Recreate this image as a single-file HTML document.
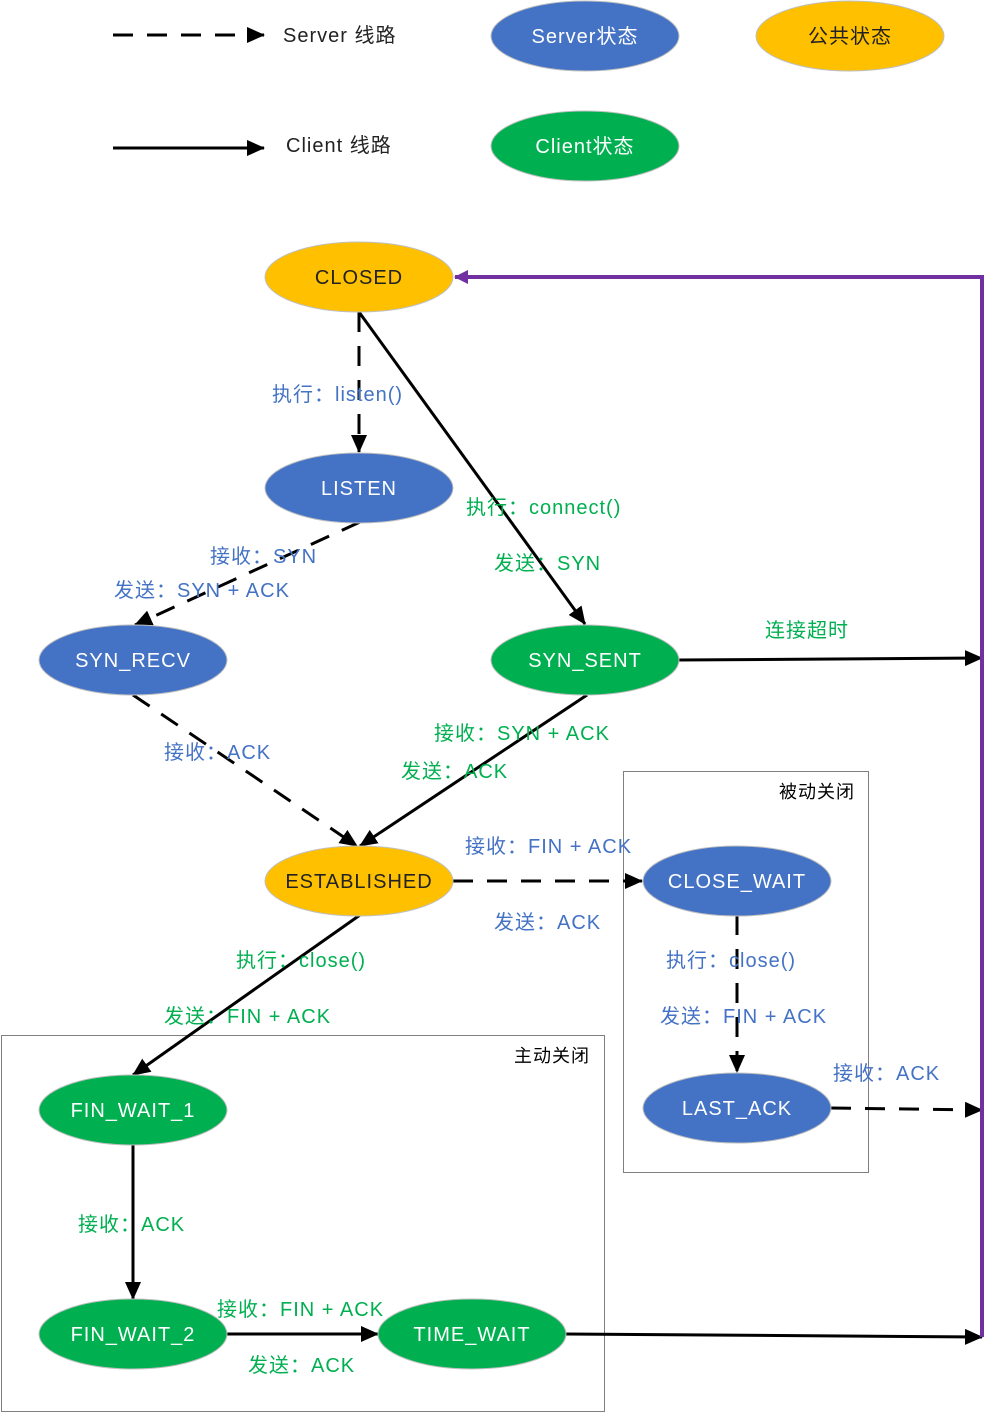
<!DOCTYPE html>
<html><head><meta charset="utf-8"><style>
html,body{margin:0;padding:0;background:#fff;}
svg text{font-family:"Liberation Sans","Noto Sans CJK SC",sans-serif;letter-spacing:1px;}
</style></head><body>
<svg width="985" height="1414" viewBox="0 0 985 1414" xmlns="http://www.w3.org/2000/svg">
<defs>
<marker id="ap" markerWidth="14" markerHeight="14" refX="13" refY="7" orient="auto" markerUnits="userSpaceOnUse" viewBox="0 0 14 14"><path d="M0,0 L14,7 L0,14 z" fill="#7030A0"/></marker>
<marker id="ab2" markerWidth="18" markerHeight="16" refX="17" refY="8" orient="auto" markerUnits="userSpaceOnUse" viewBox="0 0 18 16"><path d="M0,0 L18,8 L0,16 z" fill="#000"/></marker>
</defs>
<g stroke="#000" stroke-width="3" fill="none">
<line x1="113" y1="35" x2="264" y2="35" stroke-dasharray="20,14" marker-end="url(#ab2)"/>
<line x1="113" y1="148" x2="264" y2="148" marker-end="url(#ab2)"/>
</g>
<rect x="623.5" y="771.5" width="245" height="401" fill="none" stroke="#7f7f7f" stroke-width="1"/>
<rect x="1.5" y="1035.5" width="603" height="376" fill="none" stroke="#7f7f7f" stroke-width="1"/>
<g stroke="#000" stroke-width="3" fill="none">
<line x1="359" y1="312" x2="359" y2="452" stroke-dasharray="20,14" marker-end="url(#ab2)"/>
<line x1="359" y1="312" x2="585" y2="624" marker-end="url(#ab2)"/>
<line x1="360" y1="522" x2="135" y2="625" stroke-dasharray="20,14" marker-end="url(#ab2)"/>
<line x1="133" y1="695" x2="357" y2="846" stroke-dasharray="20,14" marker-end="url(#ab2)"/>
<line x1="587" y1="695" x2="360" y2="846" marker-end="url(#ab2)"/>
<line x1="453" y1="881" x2="642" y2="881" stroke-dasharray="20,14" marker-end="url(#ab2)"/>
<line x1="737" y1="915" x2="737" y2="1072" stroke-dasharray="20,14" marker-end="url(#ab2)"/>
<line x1="831" y1="1108" x2="982" y2="1110" stroke-dasharray="20,14" marker-end="url(#ab2)"/>
<line x1="360" y1="915" x2="133" y2="1075" marker-end="url(#ab2)"/>
<line x1="133" y1="1145" x2="133" y2="1299" marker-end="url(#ab2)"/>
<line x1="227" y1="1334" x2="378" y2="1334" marker-end="url(#ab2)"/>
<line x1="566" y1="1334" x2="982" y2="1337" marker-end="url(#ab2)"/>
<line x1="679" y1="660" x2="982" y2="658" marker-end="url(#ab2)"/>
</g>
<polyline points="982,1337 982,277 455,277" fill="none" stroke="#7030A0" stroke-width="4" marker-end="url(#ap)"/>
<g stroke="#bfbfbf" stroke-width="1">
<ellipse cx="585" cy="36" rx="94" ry="35" fill="#4472C4"/>
<ellipse cx="850" cy="36" rx="94" ry="35" fill="#FFC000"/>
<ellipse cx="585" cy="146" rx="94" ry="35" fill="#00B050"/>
<ellipse cx="359" cy="277" rx="94" ry="35" fill="#FFC000"/>
<ellipse cx="359" cy="488" rx="94" ry="35" fill="#4472C4"/>
<ellipse cx="133" cy="660" rx="94" ry="35" fill="#4472C4"/>
<ellipse cx="585" cy="660" rx="94" ry="35" fill="#00B050"/>
<ellipse cx="359" cy="881" rx="94" ry="35" fill="#FFC000"/>
<ellipse cx="737" cy="881" rx="94" ry="35" fill="#4472C4"/>
<ellipse cx="737" cy="1108" rx="94" ry="35" fill="#4472C4"/>
<ellipse cx="133" cy="1110" rx="94" ry="35" fill="#00B050"/>
<ellipse cx="133" cy="1334" rx="94" ry="35" fill="#00B050"/>
<ellipse cx="472" cy="1334" rx="94" ry="35" fill="#00B050"/>
</g>
<g font-size="20" text-anchor="middle" style="letter-spacing:0.8px">
<text x="585" y="43" fill="#fff">Server状态</text>
<text x="850" y="43" fill="#222">公共状态</text>
<text x="585" y="153" fill="#fff">Client状态</text>
<text x="359" y="284" fill="#222">CLOSED</text>
<text x="359" y="495" fill="#fff">LISTEN</text>
<text x="133" y="667" fill="#fff">SYN_RECV</text>
<text x="585" y="667" fill="#fff">SYN_SENT</text>
<text x="359" y="888" fill="#222">ESTABLISHED</text>
<text x="737" y="888" fill="#fff">CLOSE_WAIT</text>
<text x="737" y="1115" fill="#fff">LAST_ACK</text>
<text x="133" y="1117" fill="#fff">FIN_WAIT_1</text>
<text x="133" y="1341" fill="#fff">FIN_WAIT_2</text>
<text x="472" y="1341" fill="#fff">TIME_WAIT</text>
</g>
<g font-size="20" fill="#222">
<text x="283" y="42">Server 线路</text>
<text x="286" y="152">Client 线路</text>
</g>
<g font-size="18" fill="#000" style="letter-spacing:0.5px">
<text x="779" y="798">被动关闭</text>
<text x="514" y="1062">主动关闭</text>
</g>
<g font-size="20" fill="#4472C4">
<text x="272" y="401">执行：listen()</text>
<text x="210" y="563">接收：SYN</text>
<text x="114" y="597">发送：SYN + ACK</text>
<text x="164" y="759">接收：ACK</text>
<text x="465" y="853">接收：FIN + ACK</text>
<text x="494" y="929">发送：ACK</text>
<text x="666" y="967">执行：close()</text>
<text x="660" y="1023">发送：FIN + ACK</text>
<text x="833" y="1080">接收：ACK</text>
</g>
<g font-size="20" fill="#00B050">
<text x="466" y="514">执行：connect()</text>
<text x="494" y="570">发送：SYN</text>
<text x="765" y="637">连接超时</text>
<text x="434" y="740">接收：SYN + ACK</text>
<text x="401" y="778">发送：ACK</text>
<text x="236" y="967">执行：close()</text>
<text x="164" y="1023">发送：FIN + ACK</text>
<text x="78" y="1231">接收：ACK</text>
<text x="217" y="1316">接收：FIN + ACK</text>
<text x="248" y="1372">发送：ACK</text>
</g>
</svg>
</body></html>
